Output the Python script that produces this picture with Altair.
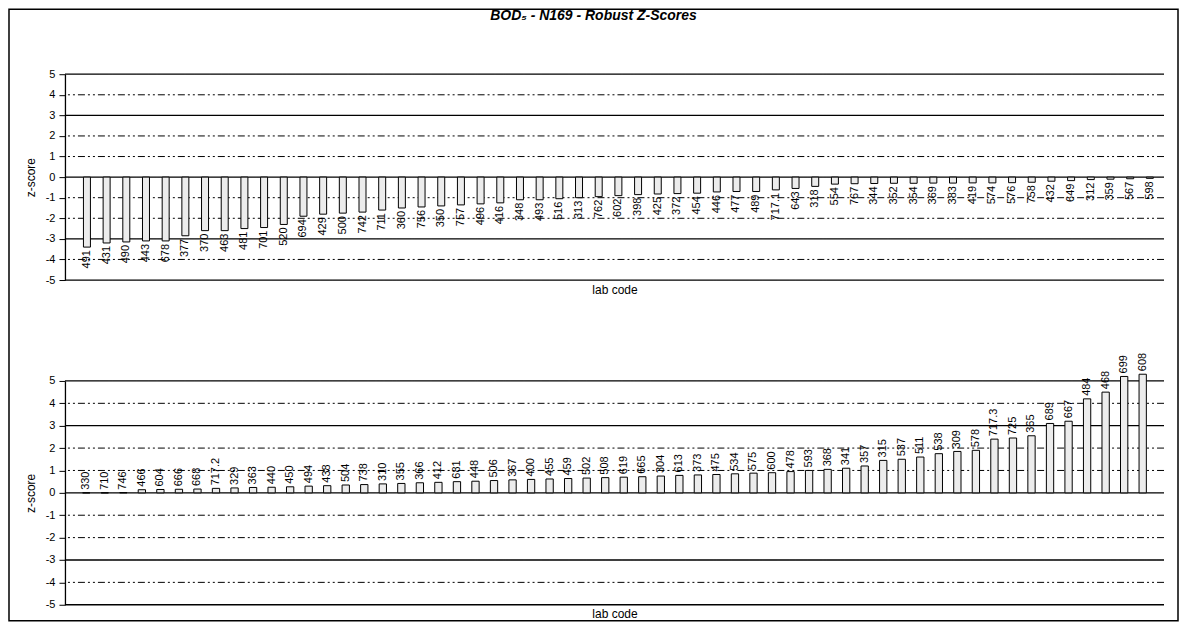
import altair as alt
import pandas as pd

TITLE = "BOD\u2085  -  N169 - Robust Z-Scores"

top_codes = ["491", "431", "490", "443", "678", "377", "370", "463", "481", "701",
             "520", "694", "429", "500", "742", "711", "360", "756", "350", "757",
             "496", "416", "348", "493", "516", "313", "762", "602", "398", "425",
             "372", "454", "446", "477", "489", "717.1", "643", "318", "554", "767",
             "344", "352", "354", "369", "383", "419", "574", "576", "758", "432",
             "649", "312", "359", "567", "598"]
top_z = [-3.4, -3.2, -3.15, -3.1, -3.1, -2.85, -2.6, -2.6, -2.5, -2.45,
         -2.3, -1.9, -1.8, -1.75, -1.7, -1.6, -1.5, -1.45, -1.4, -1.35,
         -1.3, -1.25, -1.1, -1.1, -1.05, -1.0, -0.95, -0.9, -0.85, -0.82,
         -0.8, -0.78, -0.72, -0.7, -0.7, -0.62, -0.55, -0.45, -0.34, -0.32,
         -0.31, -0.3, -0.3, -0.29, -0.29, -0.28, -0.28, -0.27, -0.25, -0.2,
         -0.17, -0.12, -0.1, -0.08, -0.06]

bot_codes = ["330", "710", "746", "466", "604", "666", "668", "717.2", "329", "363",
             "440", "450", "494", "438", "504", "738", "310", "355", "366", "412",
             "681", "448", "506", "367", "400", "455", "459", "502", "508", "619",
             "665", "304", "613", "373", "475", "534", "575", "600", "478", "593",
             "368", "341", "357", "315", "537", "511", "538", "309", "578", "717.3",
             "725", "365", "689", "667", "484", "468", "699", "608"]
bot_z = [0.0, 0.0, 0.01, 0.14, 0.15, 0.16, 0.17, 0.2, 0.22, 0.24,
         0.25, 0.27, 0.3, 0.32, 0.35, 0.37, 0.4, 0.42, 0.45, 0.47,
         0.5, 0.52, 0.55, 0.58, 0.6, 0.62, 0.64, 0.66, 0.68, 0.7,
         0.72, 0.75, 0.78, 0.8, 0.82, 0.85, 0.88, 0.9, 0.95, 1.0,
         1.05, 1.1, 1.2, 1.45, 1.5, 1.6, 1.75, 1.85, 1.9, 2.4,
         2.45, 2.55, 3.1, 3.2, 4.2, 4.5, 5.2, 5.3]

grid_levels = [5, 4, 3, 2, 1, 0, -1, -2, -3, -4, -5]
solid_levels = [5, 3, 0, -3, -5]

FONT = "Liberation Sans"
W = 1100
TOP_H = 206
BOT_H = 224

grid_df = pd.DataFrame({"v": grid_levels})
grid_df["solid"] = grid_df["v"].isin(solid_levels)

yscale = alt.Scale(domain=[-5, 5], nice=False, zero=False)
yaxis = alt.Axis(values=grid_levels, title="z-score", grid=False,
                 labelExpr="'' + datum.value", labelFont=FONT, labelFontSize=11,
                 labelColor="black", labelPadding=4, tickSize=6, tickColor="black",
                 domainColor="black", domainWidth=1.3, titleFont=FONT, titleFontSize=12,
                 titleFontWeight="normal", titleColor="black", titlePadding=8)


def panel(codes, z, height, pinner, pouter, align, label_align, label_dx):
    df = pd.DataFrame({"code": codes, "z": z})
    xenc = alt.X("code:N", sort=None,
                 scale=alt.Scale(paddingInner=pinner, paddingOuter=pouter, align=align),
                 axis=alt.Axis(labels=False, ticks=False, domain=False, title="lab code",
                               titleFont=FONT, titleFontSize=12, titleFontWeight="normal",
                               titleColor="black", titlePadding=4))
    grid = alt.Chart(grid_df).mark_rule(color="black").encode(
        y=alt.Y("v:Q", scale=yscale, axis=yaxis),
        strokeDash=alt.condition("datum.solid", alt.value([1, 0]), alt.value([7, 3, 2, 3, 2, 3])),
        strokeWidth=alt.condition("datum.solid", alt.value(1.3), alt.value(1.0)),
    )
    bars = alt.Chart(df).mark_bar(fill="#ececec", stroke="black", strokeWidth=1).encode(
        x=xenc,
        y=alt.Y("z:Q", scale=yscale, axis=yaxis),
        y2=alt.datum(0),
    )
    labels = alt.Chart(df).mark_text(angle=270, align=label_align, baseline="middle",
                                     dx=label_dx, font=FONT, fontSize=11, color="black").encode(
        x=xenc,
        y=alt.Y("z:Q", scale=yscale, axis=yaxis),
        text="code:N",
    )
    return [grid, bars, labels]


title_df = pd.DataFrame({"t": [TITLE]})
title = alt.Chart(title_df).mark_text(font=FONT, fontSize=14, fontWeight="bold",
                                      fontStyle="italic", align="center", baseline="middle",
                                      color="black").encode(
    x=alt.value(529), y=alt.value(-58), text="t:N")
border = alt.Chart(title_df).mark_rect(fill="white", fillOpacity=0, stroke="black",
                                       strokeWidth=1.5).encode(
    x=alt.value(-56), x2=alt.value(1114), y=alt.value(-65), y2=alt.value(547))

top = alt.layer(*panel(top_codes, top_z, TOP_H, 0.645, 0.741, 0.634, "right", -3),
                title, border).properties(width=W, height=TOP_H)
bot = alt.layer(*panel(bot_codes, bot_z, BOT_H, 0.606, 0.953, 0.5, "left", 3)
                ).properties(width=W, height=BOT_H)

chart = alt.vconcat(top, bot, spacing=101, bounds="flush").properties(
    padding=0, background="white"
).configure_view(stroke=None)

chart.save("out.html", embed_options={"renderer": "svg", "actions": False})
